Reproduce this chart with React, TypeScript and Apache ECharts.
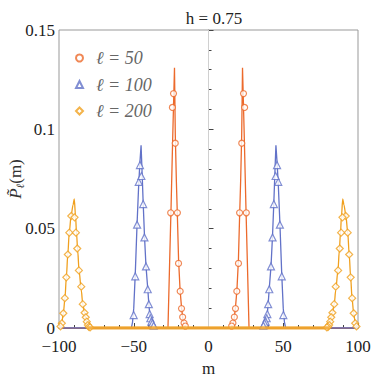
import React, { useEffect, useRef } from "react";
import * as echarts from "echarts";

const titleText = "h = 0.75";
const seriesNames = ["ℓ = 50", "ℓ = 100", "ℓ = 200"];
const colors = ["#EC6A2C", "#6272C8", "#F0A01E"];

// smooth theory curves [m, P]
const curve50: number[][] = [
  [-100, 0], [-27.1, 0], [-26.0, 0.033], [-25.0, 0.062], [-23.9, 0.097], [-22.75, 0.131],
  [-22.2, 0.097], [-21.5, 0.074], [-20.8, 0.056], [-20.0, 0.034], [-19.0, 0.019], [-18.0, 0.010],
  [-17.2, 0.005], [-16.3, 0.0015], [-15.5, 0.0003], [-14.5, 0],
  [14.5, 0], [15.5, 0.0003], [16.3, 0.0015], [17.2, 0.005], [18.0, 0.010], [19.0, 0.019],
  [20.0, 0.034], [20.8, 0.056], [21.5, 0.074], [22.2, 0.097], [22.75, 0.131],
  [23.9, 0.097], [25.0, 0.062], [26.0, 0.033], [27.1, 0], [100, 0],
];
const curve100: number[][] = [
  [-100, 0], [-51.6, 0], [-50.8, 0.003], [-50.0, 0.010], [-49.0, 0.027], [-47.8, 0.052],
  [-46.7, 0.072], [-45.9, 0.083], [-45.1, 0.092], [-44.5, 0.080], [-43.7, 0.063], [-42.8, 0.046],
  [-41.8, 0.031], [-40.6, 0.0195], [-39.9, 0.012], [-39.3, 0.007], [-38.5, 0.004], [-37.5, 0.002],
  [-36.5, 0.001], [-35, 0],
  [35, 0], [36.5, 0.001], [37.5, 0.002], [38.5, 0.004], [39.3, 0.007], [39.9, 0.012], [40.6, 0.0195],
  [41.8, 0.031], [42.8, 0.046], [43.7, 0.063], [44.5, 0.080], [45.1, 0.092], [45.9, 0.083],
  [46.7, 0.072], [47.8, 0.052], [49.0, 0.027], [50.0, 0.010], [50.8, 0.003], [51.6, 0], [100, 0],
];
const curve200: number[][] = [
  [-100, 0.0003], [-99.2, 0.0008], [-98.2, 0.0024], [-97.1, 0.0074], [-96.0, 0.015], [-95.1, 0.0255],
  [-94.1, 0.037], [-93.15, 0.048], [-91.9, 0.0565], [-90.6, 0.062], [-89.8, 0.065], [-88.9, 0.056],
  [-88.3, 0.048], [-87.5, 0.039], [-86.6, 0.029], [-85.1, 0.019], [-84.1, 0.012], [-82.9, 0.0077],
  [-82.1, 0.005], [-81.4, 0.003], [-80.7, 0.0015], [-79.5, 0.0005], [-78, 0],
  [78, 0], [79.5, 0.0005], [80.7, 0.0015], [81.4, 0.003], [82.1, 0.005], [82.9, 0.0077], [84.1, 0.012],
  [85.1, 0.019], [86.6, 0.029], [87.5, 0.039], [88.3, 0.048], [88.9, 0.056], [89.8, 0.065],
  [90.6, 0.062], [91.9, 0.0565], [93.15, 0.048], [94.1, 0.037], [95.1, 0.0255], [96.0, 0.015],
  [97.1, 0.0074], [98.2, 0.0024], [99.2, 0.0008], [100, 0.0003],
];

// numerical points (markers) [m, P]
const markers50: number[][] = [
  [-23.4, 0.118], [-24.15, 0.111], [-22.25, 0.093], [-25.3, 0.058], [-20.8, 0.058], [-20.05, 0.0325],
  [-18.95, 0.0185], [-18.05, 0.0098], [-17.3, 0.0055], [-16.35, 0.0025], [-15.5, 0.001],
  [23.4, 0.118], [24.15, 0.111], [22.25, 0.093], [25.3, 0.058], [20.8, 0.058], [20.05, 0.0325],
  [18.95, 0.0185], [18.05, 0.0098], [17.3, 0.0055], [16.35, 0.0025], [15.5, 0.001],
];
const markers100: number[][] = [
  [-45.85, 0.082], [-46.65, 0.0736], [-44.9, 0.0765], [-43.7, 0.0624], [-47.75, 0.052], [-42.85, 0.0456],
  [-49.0, 0.026], [-41.8, 0.031], [-50.05, 0.0065], [-40.65, 0.0195], [-39.9, 0.012], [-39.35, 0.007],
  [-38.9, 0.0049], [-38.25, 0.0032], [-37.5, 0.0024], [-36.7, 0.0012],
  [45.85, 0.082], [46.65, 0.0736], [44.9, 0.0765], [43.7, 0.0624], [47.75, 0.052], [42.85, 0.0456],
  [49.0, 0.026], [41.8, 0.031], [50.05, 0.0065], [40.65, 0.0195], [39.9, 0.012], [39.35, 0.007],
  [38.9, 0.0049], [38.25, 0.0032], [37.5, 0.0024], [36.7, 0.0012],
];
const markers200: number[][] = [
  [-91.8, 0.0564], [-89.6, 0.0557], [-93.1, 0.048], [-88.7, 0.048], [-94.1, 0.037], [-87.8, 0.040],
  [-95.1, 0.0255], [-86.7, 0.029], [-96.1, 0.015], [-85.1, 0.0208], [-97.1, 0.0074], [-84.1, 0.012],
  [-98.1, 0.0024], [-82.9, 0.0077], [-82.1, 0.0054], [-81.4, 0.0032], [-80.7, 0.0015], [-99.0, 0.0008],
  [-80.0, 0.0006], [-79.2, 0.0003],
  [91.8, 0.0564], [89.6, 0.0557], [93.1, 0.048], [88.7, 0.048], [94.1, 0.037], [87.8, 0.040],
  [95.1, 0.0255], [86.7, 0.029], [96.1, 0.015], [85.1, 0.0208], [97.1, 0.0074], [84.1, 0.012],
  [98.1, 0.0024], [82.9, 0.0077], [82.1, 0.0054], [81.4, 0.0032], [80.7, 0.0015], [99.0, 0.0008],
  [80.0, 0.0006], [79.2, 0.0003],
];
// dense numerical points lying on zero form a band
const zeroBand: number[][] = [[-81, 0], [81, 0]];

const xTicks = { min: -100, max: 100, interval: 50 };
const yTicks = { min: 0, max: 0.15, interval: 0.05 };

const serif = "Liberation Serif";

export default function App() {
  const ref = useRef<HTMLDivElement>(null);
  useEffect(() => {
    document.body.style.margin = "0";
    const chart = echarts.init(ref.current!, null, { renderer: "svg" });
    const curves = [curve50, curve100, curve200];
    const markers = [markers50, markers100, markers200];
    const symbols = ["circle", "triangle", "diamond"];
    const sizes = [6, 7, 7];
    const series: any[] = [];
    curves.forEach((c, i) => {
      series.push({
        name: "curve" + i,
        type: "line",
        data: c,
        showSymbol: false,
        smooth: i === 2 ? 0.3 : false,
        smoothMonotone: "x",
        lineStyle: { color: colors[i], width: 1.3 },
        itemStyle: { color: colors[i] },
        z: 2,
        silent: true,
      });
    });
    markers.forEach((m, i) => {
      series.push({
        name: seriesNames[i],
        type: "scatter",
        data: m,
        symbol: symbols[i],
        symbolSize: sizes[i],
        itemStyle: { color: "#ffffff", borderColor: colors[i], borderWidth: 1.2 },
        z: 3,
        silent: true,
      });
    });
    series.push({
      name: "band",
      type: "line",
      data: zeroBand,
      showSymbol: false,
      lineStyle: { color: "#F2A52A", width: 3.5, opacity: 0.85 },
      z: 4,
      silent: true,
      markLine: {
        silent: true,
        symbol: "none",
        label: { show: false },
        lineStyle: { color: "#d0d0d0", width: 1, type: "solid" },
        data: [{ xAxis: 0 }],
        z: 1,
      },
    });

    chart.setOption({
      animation: false,
      backgroundColor: "#ffffff",
      title: {
        text: titleText,
        left: 209,
        top: 5,
        textAlign: "center",
        textStyle: { fontFamily: serif, fontSize: 17, fontWeight: "normal", color: "#222" },
      },
      legend: {
        orient: "vertical",
        left: 70,
        top: 44,
        itemWidth: 7,
        itemHeight: 7,
        itemGap: 8.5,
        data: seriesNames,
        formatter: (n: string) => `{t|${n}}`,
        textStyle: {
          rich: {
            t: {
              fontFamily: serif,
              fontSize: 18,
              fontStyle: "italic",
              color: "#666",
              padding: [0, 0, 0, 8],
            },
          },
        },
      },
      grid: {
        left: 59,
        right: 16,
        top: 30,
        bottom: 54,
        show: true,
        borderColor: "#999",
        borderWidth: 1,
        containLabel: false,
        outerBoundsMode: "none",
      },
      xAxis: {
        type: "value",
        min: xTicks.min,
        max: xTicks.max,
        interval: xTicks.interval,
        name: "m",
        nameLocation: "middle",
        nameGap: 32,
        nameMoveOverlap: false,
        nameTextStyle: { fontFamily: serif, fontSize: 17, color: "#222" },
        axisLine: { show: true, lineStyle: { color: "#555", width: 1 } },
        axisTick: { show: true, inside: true, length: 5, lineStyle: { color: "#444" } },
        minorTick: { show: true, splitNumber: 5, length: 3, lineStyle: { color: "#444" } },
        splitLine: { show: false },
        axisLabel: {
          fontFamily: serif,
          fontSize: 17,
          color: "#222",
          margin: 10,
          formatter: (v: number) => (v < 0 ? "\u2212" + Math.abs(v) : String(v)),
        },
      },
      yAxis: {
        type: "value",
        min: yTicks.min,
        max: yTicks.max,
        interval: yTicks.interval,
        name: "{p|P\u0303}{s|ℓ}{n|(m)}",
        nameLocation: "middle",
        nameRotate: 90,
        nameGap: 34,
        nameMoveOverlap: false,
        nameTextStyle: {
          fontFamily: serif,
          color: "#333",
          lineHeight: 19,
          rich: {
            p: { fontFamily: serif, fontSize: 17, fontStyle: "italic", color: "#333", lineHeight: 19 },
            s: { fontFamily: serif, fontSize: 11, fontStyle: "italic", color: "#333", verticalAlign: "bottom" },
            n: { fontFamily: serif, fontSize: 17, color: "#333", lineHeight: 19 },
          },
        },
        axisLine: { show: true, lineStyle: { color: "#888", width: 1 } },
        axisTick: { show: true, inside: true, length: 5, lineStyle: { color: "#444" } },
        minorTick: { show: true, splitNumber: 5, length: 3, lineStyle: { color: "#444" } },
        splitLine: { show: false },
        axisLabel: { fontFamily: serif, fontSize: 17, color: "#222", margin: 4 },
      },
      series,
    });
    return () => chart.dispose();
  }, []);
  return <div ref={ref} style={{ width: 374, height: 382 }} />;
}
